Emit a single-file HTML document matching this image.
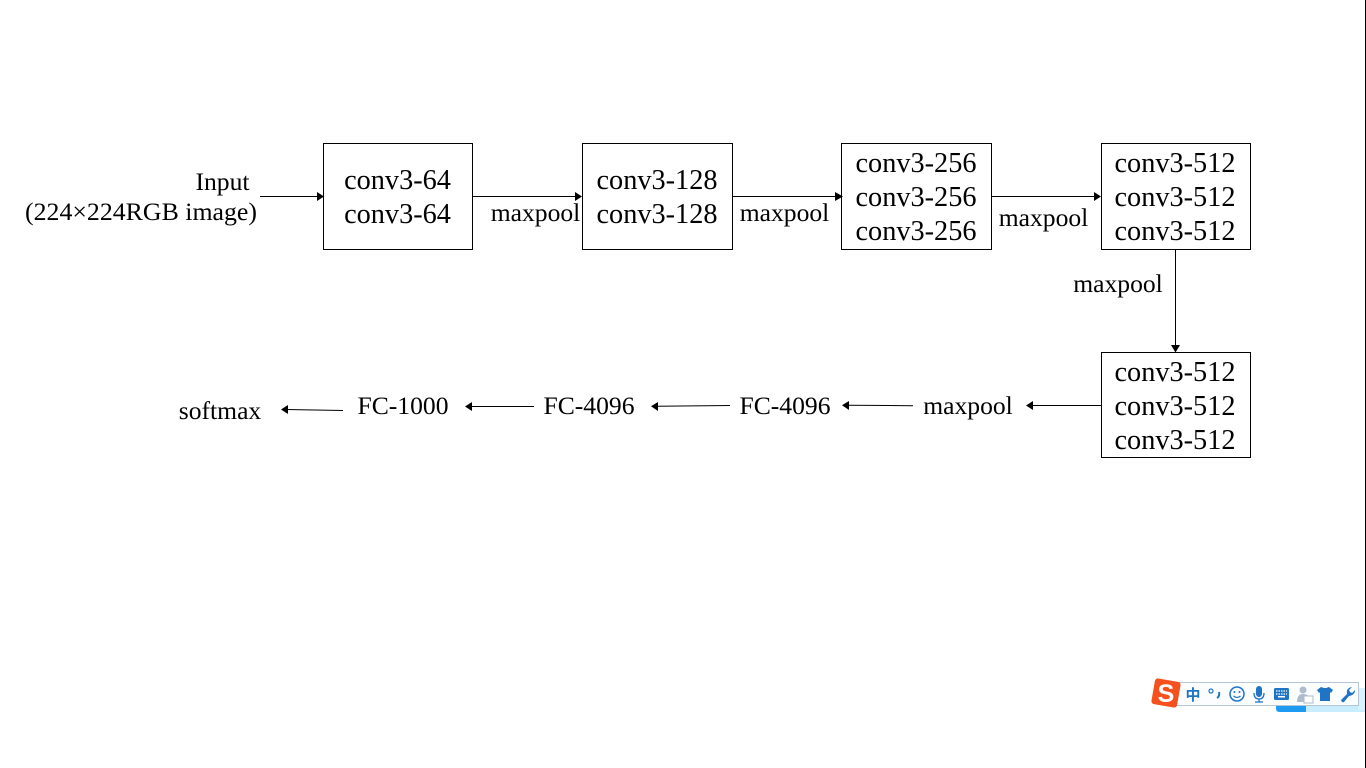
<!DOCTYPE html>
<html><head><meta charset="utf-8"><style>
html,body{margin:0;padding:0;background:#fff;width:1366px;height:768px;overflow:hidden}
svg{display:block}
text{font-family:"Liberation Serif",serif;fill:#000}
.a{font-size:28.3px;text-anchor:middle}
.b{font-size:25.6px;text-anchor:middle}
rect.n{fill:#fff;stroke:#000;stroke-width:1}
line.c{stroke:#000;stroke-width:1}
</style></head><body>
<svg width="1366" height="768" viewBox="0 0 1366 768" xmlns="http://www.w3.org/2000/svg">
<rect width="1366" height="768" fill="#fff"/>
<rect x="1365" y="0" width="1" height="768" fill="#000"/>
<rect class="n" x="323.5" y="143.5" width="149" height="106"/>
<rect class="n" x="582.5" y="143.5" width="150" height="106"/>
<rect class="n" x="841.5" y="143.5" width="150" height="106"/>
<rect class="n" x="1101.5" y="143.5" width="149" height="106"/>
<rect class="n" x="1101.5" y="352.5" width="149" height="105"/>
<line class="c" x1="260" y1="196.5" x2="318" y2="196.5"/><path d="M317 192L324 196.500L317 201Z"/>
<line class="c" x1="473" y1="196.5" x2="576" y2="196.5"/><path d="M575 192L582 196.500L575 201Z"/>
<line class="c" x1="733" y1="196.5" x2="836" y2="196.5"/><path d="M835 192L843 196.500L835 201Z"/>
<line class="c" x1="992" y1="196.5" x2="1095" y2="196.5"/><path d="M1094 192L1101 196.500L1094 201Z"/>
<line class="c" x1="1175.5" y1="250" x2="1175.5" y2="346"/><path d="M1171 345L1175.500 352.500L1180 345Z"/>
<line class="c" x1="1101" y1="405.5" x2="1031" y2="405.5"/><path d="M1033 401L1026 405.500L1033 410Z"/>
<line class="c" x1="913" y1="405.7" x2="848" y2="405.3"/><path d="M849 401L842 405.300L849 410Z"/>
<line class="c" x1="730" y1="405.5" x2="656" y2="406.2"/><path d="M658 402L651 406.200L658 411Z"/>
<line class="c" x1="534" y1="406.5" x2="470" y2="406.5"/><path d="M472 402L465 406.500L472 411Z"/>
<line class="c" x1="343" y1="410.5" x2="286" y2="409.5"/><path d="M288 405L281 409.500L288 414Z"/>
<text class="b" x="222.5" y="190">Input</text>
<text x="25" y="220" font-size="25.6" textLength="232" lengthAdjust="spacingAndGlyphs">(224×224RGB image)</text>
<text class="a" x="397.5" y="189">conv3-64</text>
<text class="a" x="397.5" y="223">conv3-64</text>
<text class="a" x="657" y="189">conv3-128</text>
<text class="a" x="657" y="223">conv3-128</text>
<text class="a" x="916" y="172">conv3-256</text>
<text class="a" x="916" y="206">conv3-256</text>
<text class="a" x="916" y="240">conv3-256</text>
<text class="a" x="1175" y="172">conv3-512</text>
<text class="a" x="1175" y="206">conv3-512</text>
<text class="a" x="1175" y="240">conv3-512</text>
<text class="a" x="1175" y="381">conv3-512</text>
<text class="a" x="1175" y="415">conv3-512</text>
<text class="a" x="1175" y="449">conv3-512</text>
<text class="b" x="535.5" y="221">maxpool</text>
<text class="b" x="784.5" y="221">maxpool</text>
<text class="b" x="1043.5" y="226">maxpool</text>
<text class="b" x="1118" y="292">maxpool</text>
<text class="b" x="968" y="414">maxpool</text>
<text class="b" x="785" y="414">FC-4096</text>
<text class="b" x="589" y="414">FC-4096</text>
<text class="b" x="403" y="414">FC-1000</text>
<text class="b" x="220" y="419">softmax</text>
<rect x="1276" y="700" width="89" height="12" fill="#c8edff"/>
<path d="M1276 700H1306V712H1280Q1276 712 1276 708Z" fill="#1e9bf0"/>
<rect x="1358" y="688" width="7" height="22" fill="#d8f2ff"/>
<rect x="1175.5" y="682.5" width="183" height="23" fill="#fbfdff" stroke="#b4c6d8"/>
<g transform="rotate(10 1166 693)"><rect x="1153" y="680" width="26" height="26" rx="3" fill="#f4511e"/></g>
<text x="1166" y="702" font-size="25" font-weight="bold" text-anchor="middle" style="font-family:'Liberation Sans',sans-serif;fill:#fff">S</text>
<text x="1193" y="700" font-size="15" font-weight="bold" text-anchor="middle" style="font-family:'Liberation Sans','Noto Sans CJK SC',sans-serif;fill:#1f74c4">中</text>
<circle cx="1211" cy="691" r="2" fill="none" stroke="#1f74c4" stroke-width="1.2"/>
<path d="M1219 692q1 4-2 6" fill="none" stroke="#1f74c4" stroke-width="2"/>
<circle cx="1237" cy="694" r="7" fill="none" stroke="#1f74c4" stroke-width="1.5"/>
<circle cx="1234.500" cy="692" r="1" fill="#1f74c4"/><circle cx="1239.500" cy="692" r="1" fill="#1f74c4"/>
<path d="M1233.500 696q3.500 3 7 0" fill="none" stroke="#1f74c4" stroke-width="1.2"/>
<rect x="1256" y="686" width="6" height="11" rx="3" fill="#1f74c4"/>
<path d="M1254 693q0 6 5 6t5-6M1259 699v3M1255 702h8" fill="none" stroke="#1f74c4" stroke-width="1.3"/>
<rect x="1274" y="688" width="15" height="12" rx="1.500" fill="#1f74c4"/>
<path d="M1276 691h11M1276 694h11" stroke="#fff" stroke-dasharray="1.500 1" stroke-width="1.200"/><rect x="1278" y="696" width="7" height="1.500" fill="#fff"/>
<circle cx="1303" cy="690" r="3.500" fill="#aebccb"/>
<path d="M1297 702q0-8 6-8t5 4v4Z" fill="#aebccb"/>
<rect x="1304" y="696" width="9" height="7" fill="#fff" stroke="#aebccb"/>
<path d="M1321 687l3 1h2l3-1 4 3-2 3-1-1v9h-10v-9l-1 1-2-3Z" fill="#1f74c4"/>
<path d="M1341 700l6-6q-1-5 3-6.500l2-.5-3 3 1 2 2 1 3-3q0 5-6 6l-5 6q-2 1-3-2Z" fill="#1f74c4"/>
</svg>
</body></html>
